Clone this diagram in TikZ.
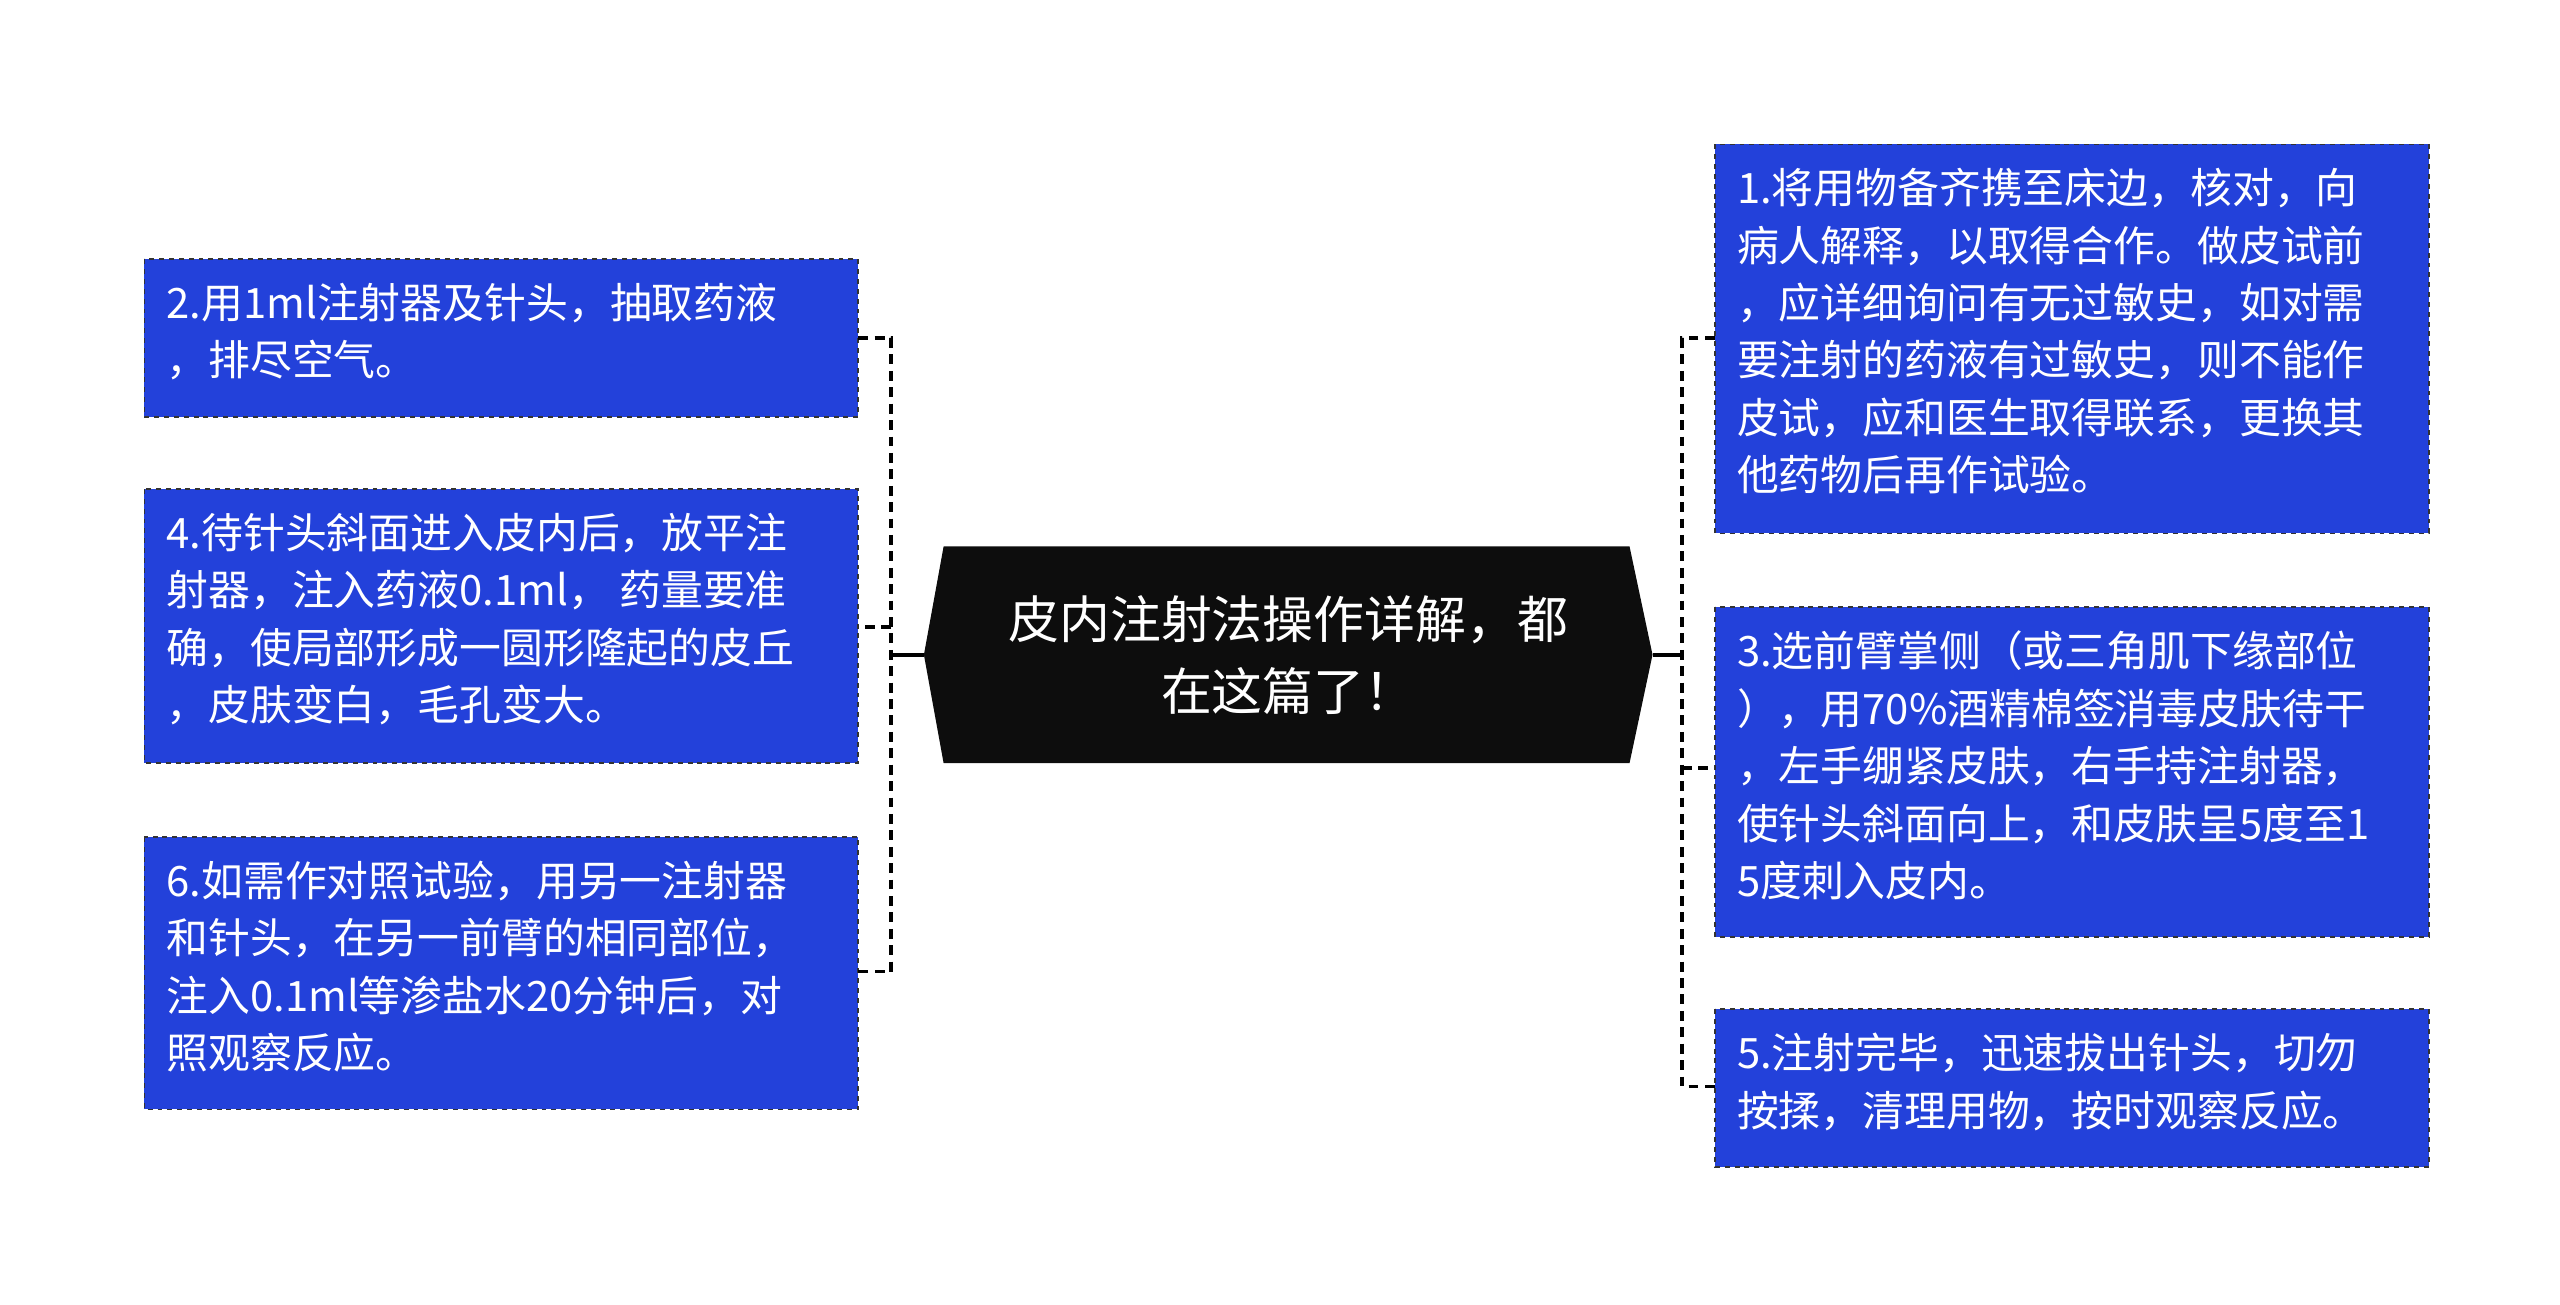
\documentclass[tikz,border=0pt]{standalone}
\usepackage{fontspec}
\setmainfont{Noto Sans CJK SC}
\begin{document}
\begin{tikzpicture}[x=1pt,y=-1pt,
  leaf/.style={draw=black!80,dashed,line width=1pt,fill=blueleaf,text=white,anchor=north west,align=left,inner sep=0pt,font=\fontsize{25.5}{35}\selectfont},
  conn/.style={draw=black,line width=2.2pt,dash pattern=on 6pt off 4pt}]
\definecolor{blueleaf}{HTML}{2341DA}
\useasboundingbox (0,0) rectangle (1560,795);
% center
\fill[black!95] (563,399) -- (575,333) -- (993,333) -- (1007,399) -- (993,465) -- (575,465) -- cycle;
\node[text=white,align=center,font=\fontsize{31}{44}\selectfont] (c) at (785,399) {皮内注射法操作详解，都\\在这篇了！};
\coordinate (cl) at (563,399); \coordinate (cr) at (1007,399);
\newcommand{\leafbox}[6]{\filldraw[leaf] (#1,#2) rectangle (#3,#4); \node[leaf,draw=none,fill=none] (#5) at (#1+13,#2+14) {#6};}
\leafbox{88}{158}{523}{254}{b2}{2.用1ml注射器及针头，抽取药液\\，排尽空气。}
\leafbox{88}{298}{523}{465}{b4}{4.待针头斜面进入皮内后，放平注\\射器，注入药液0.1ml， 药量要准\\确，使局部形成一圆形隆起的皮丘\\，皮肤变白，毛孔变大。}
\leafbox{88}{510}{523}{676}{b6}{6.如需作对照试验，用另一注射器\\和针头，在另一前臂的相同部位，\\注入0.1ml等渗盐水20分钟后，对\\照观察反应。}
\leafbox{1045}{88}{1480}{325}{b1}{1.将用物备齐携至床边，核对，向\\病人解释，以取得合作。做皮试前\\，应详细询问有无过敏史，如对需\\要注射的药液有过敏史，则不能作\\皮试，应和医生取得联系，更换其\\他药物后再作试验。}
\leafbox{1045}{370}{1480}{571}{b3}{3.选前臂掌侧（或三角肌下缘部位\\），用70\%酒精棉签消毒皮肤待干\\，左手绷紧皮肤，右手持注射器，\\使针头斜面向上，和皮肤呈5度至1\\5度刺入皮内。}
\leafbox{1045}{615}{1480}{711}{b5}{5.注射完毕，迅速拔出针头，切勿\\按揉，清理用物，按时观察反应。}
\draw[line width=2.2pt] (cl) -- (543,399);
\draw[line width=2.2pt] (cr) -- (1025,399);
\draw[conn] (523,206) -- (543,206) -- (543,592) -- (523,592);
\draw[conn] (543,382) -- (523,382);
\draw[conn] (1045,206) -- (1025,206) -- (1025,662) -- (1045,662);
\draw[conn] (1025,468) -- (1045,468);
\end{tikzpicture}
\end{document}
